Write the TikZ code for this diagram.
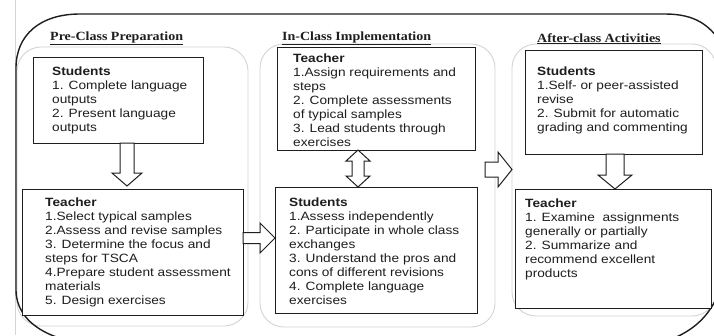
\documentclass[tikz,border=0pt]{standalone}
\usepackage{fontspec}
\newfontfamily\bodyf{Liberation Sans}[FakeStretch=1.14]
\newfontfamily\titlef{Liberation Serif}[FakeStretch=1.12]
\usetikzlibrary{calc}
\definecolor{ink}{HTML}{1E1E1E}
\definecolor{panelgray}{HTML}{D4D4D4}
\tikzset{
  box/.style={draw=ink, line width=1pt, rectangle, inner sep=0pt, anchor=north west},
  panel/.style={draw=panelgray, line width=0.9pt, rounded corners=24pt},
  txt/.style={anchor=north west, inner sep=0pt, align=left, text=ink, font=\bodyf\fontsize{12}{13.9}\selectfont},
  ttl/.style={anchor=base west, inner sep=0pt, text=ink, font=\titlef\bfseries\fontsize{12.5}{14}\selectfont},
  blockarrow/.style={draw=ink, line width=1pt, fill=white, line join=miter},
  outer/.style={draw=ink, line width=1.4pt}
}
\begin{document}
\begin{tikzpicture}[x=1pt,y=-1pt]
\useasboundingbox (0,0) rectangle (714,335);
\clip (0,0) rectangle (714,335);
\fill[white] (0,0) rectangle (714,335);
% page edge line
\draw[panelgray, line width=0.6pt] (15,0) -- (15,335);
% grey panels
\draw[panel] (17,47) rectangle (248,326);
\draw[panel] (260,44) rectangle (495,327);
\draw[panel] (512,44) rectangle (716,316);
% outer outline
\draw[outer] (16,290) -- (16,68) .. controls (16,35) and (40,14) .. (80,14)
  -- (665,14) .. controls (695,14) and (712,25) .. (725,50)
  -- (728,250) .. controls (724,300) and (705,330) .. (660,343)
  -- (110,345) .. controls (50,345) and (16,322) .. (16,290) -- cycle;
% titles
\node[ttl] (t1) at (50,40) {\underline{Pre-Class Preparation}};
\node[ttl] (t2) at (282,40) {\underline{In-Class Implementation}};
\node[ttl] (t3) at (537,42) {\underline{After-class Activities}};
% boxes
\node[box, fill=white, minimum width=170pt, minimum height=86pt] (ps) at (33,57) {};
\node[box, fill=white, minimum width=221pt, minimum height=126pt] (pt) at (22,189) {};
\node[box, fill=white, minimum width=198pt, minimum height=103pt] (it) at (277,47) {};
\node[box, fill=white, minimum width=202pt, minimum height=126pt] (is) at (275,187) {};
\node[box, fill=white, minimum width=177pt, minimum height=104pt] (as) at (525,50) {};
\node[box, fill=white, minimum width=196pt, minimum height=119pt] (at) at (515,189) {};
% texts
\node[txt] (pstx) at (52,67) {\textbf{Students}\\1. Complete language\\outputs\\2. Present language\\outputs};
\node[txt] (pttx) at (45,198) {\textbf{Teacher}\\1.Select typical samples\\2.Assess and revise samples\\3. Determine the focus and\\steps for TSCA\\4.Prepare student assessment\\materials\\5. Design exercises};
\node[txt] (ittx) at (293,54) {\textbf{Teacher}\\1.Assign requirements and\\steps\\2. Complete assessments\\of typical samples\\3. Lead students through\\exercises};
\node[txt] (istx) at (289,198) {\textbf{Students}\\1.Assess independently\\2. Participate in whole class\\exchanges\\3. Understand the pros and\\cons of different revisions\\4. Complete language\\exercises};
\node[txt] (astx) at (537,67) {\textbf{Students}\\1.Self- or peer-assisted\\revise\\2. Submit for automatic\\grading and commenting};
\node[txt] (attx) at (525,199) {\textbf{Teacher}\\1. Examine\ \ assignments\\generally or partially\\2. Summarize and\\recommend excellent\\products};
% block arrows
\draw[blockarrow] (120,143) -- (134,143) -- (134,173) -- (142,173) -- (127,186) -- (112,173) -- (120,173) -- cycle;
\draw[blockarrow] (243,232.5) -- (260,232.5) -- (260,223) -- (275,238) -- (260,253) -- (260,243.5) -- (243,243.5) -- cycle;
\draw[blockarrow] (358,150) -- (370,161) -- (364,161) -- (364,176) -- (370,176) -- (358,187) -- (346,176) -- (352,176) -- (352,161) -- (346,161) -- cycle;
\draw[blockarrow] (485,162) -- (498,162) -- (498,152) -- (512,169.5) -- (498,187) -- (498,177) -- (485,177) -- cycle;
\draw[blockarrow] (606,154) -- (624,154) -- (624,175) -- (632,175) -- (615,189) -- (598,175) -- (606,175) -- cycle;
\end{tikzpicture}
\end{document}
